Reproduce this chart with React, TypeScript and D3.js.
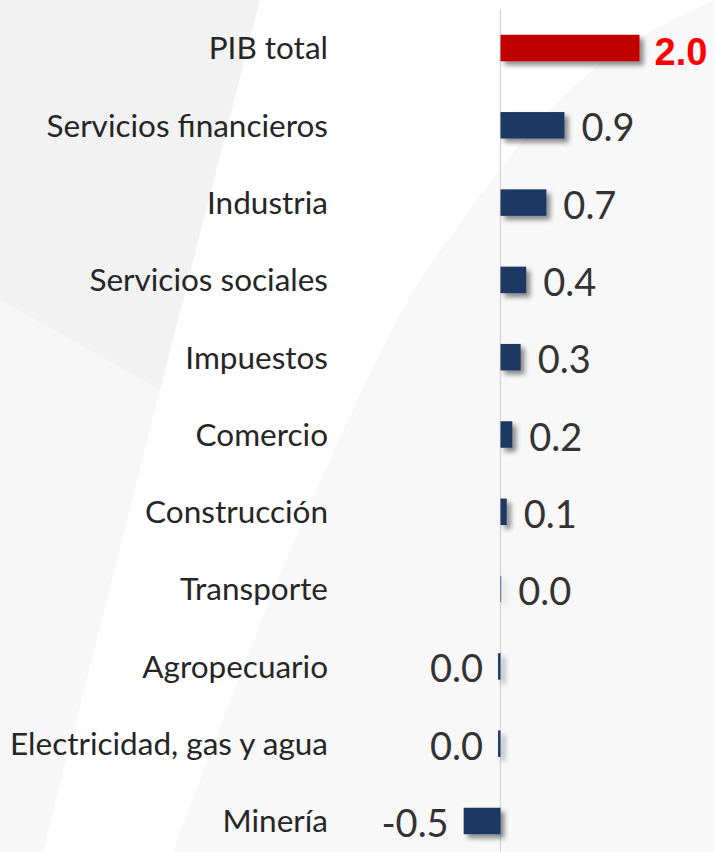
import React from "react";
import * as d3 from "d3";

const categories = [
  "PIB total",
  "Servicios financieros",
  "Industria",
  "Servicios sociales",
  "Impuestos",
  "Comercio",
  "Construcción",
  "Transporte",
  "Agropecuario",
  "Electricidad, gas y agua",
  "Minería",
];
const values = [2.0, 0.92, 0.66, 0.37, 0.29, 0.17, 0.09, 0.01, -0.035, -0.035, -0.53];
const valueLabels = ["2.0", "0.9", "0.7", "0.4", "0.3", "0.2", "0.1", "0.0", "0.0", "0.0", "-0.5"];

const W = 714;
const H = 852;
const ZERO_X = 500.5;
const PX_PER_UNIT = 69.5;

export default function App() {
  const x = d3
    .scaleLinear()
    .domain([-ZERO_X / PX_PER_UNIT, (W - ZERO_X) / PX_PER_UNIT])
    .range([0, W]);
  const y = d3.scalePoint<string>().domain(categories).range([9.35, 859.65]).padding(0.5);
  const barH = 26.5;

  const curvePts: [number, number][] = [
    [714, 0],
    [600, 64],
    [510, 157],
    [450, 237],
    [397, 320],
    [330, 460],
    [270, 600],
    [217, 735],
    [173, 852],
  ];
  const curve = d3.line().curve(d3.curveNatural)(curvePts) as string;
  const rightRegion = curve + ` L714,852 L714,0 Z`;
  const darkPoly = d3.line()([
    [0, 0],
    [260, 0],
    [160, 390],
    [0, 300],
  ]) + "Z";
  const lightPoly = d3.line()([
    [0, 300],
    [160, 390],
    [43, 852],
    [0, 852],
  ]) + "Z";

  return (
    <svg
      width={W}
      height={H}
      style={{ position: "absolute", left: 0, top: 0, display: "block" }}
    >
      <defs>
        <filter id="shadow" filterUnits="userSpaceOnUse" x={0} y={0} width={W} height={H}>
          <feDropShadow dx={4} dy={4} stdDeviation={2.5} floodColor="#000" floodOpacity={0.45} />
        </filter>
      </defs>
      <rect x={0} y={0} width={W} height={H} fill="#ffffff" />
      <path d={rightRegion} fill="#f8f8f8" />
      <path d={darkPoly} fill="#f2f2f2" />
      <path d={lightPoly} fill="#f7f7f7" />

      <line x1={x(0)} x2={x(0)} y1={9} y2={H} stroke="#d9d9d9" strokeWidth={1.5} />

      {categories.map((c, i) => {
        const v = values[i];
        const cy = y(c) as number;
        const x0 = x(Math.min(0, v));
        const w = Math.abs(x(v) - x(0));
        const isTotal = i === 0;
        return (
          <g key={c}>
            <rect
              x={x0}
              y={cy - barH / 2}
              width={w}
              height={barH}
              fill={isTotal ? "#c00000" : "#1f3864"}
              filter="url(#shadow)"
            />
            <text
              x={328}
              y={cy + 11.3}
              textAnchor="end"
              fontFamily="Lato, sans-serif"
              fontSize={31.5}
              fill="#262626"
            >
              {c}
            </text>
            {isTotal ? (
              <text
                x={x(v) + 15}
                y={cy + 16.5}
                textAnchor="start"
                fontFamily="'Liberation Sans', Arial, sans-serif"
                fontWeight="bold"
                fontSize={38}
                fill="#ff0000"
              >
                {valueLabels[i]}
              </text>
            ) : (
              <text
                x={v >= 0 ? x(v) + 17 : x(v) - 15}
                y={cy + 16}
                textAnchor={v >= 0 ? "start" : "end"}
                fontFamily="Lato, sans-serif"
                fontSize={38}
                fill="#333333"
              >
                {valueLabels[i]}
              </text>
            )}
          </g>
        );
      })}
    </svg>
  );
}
